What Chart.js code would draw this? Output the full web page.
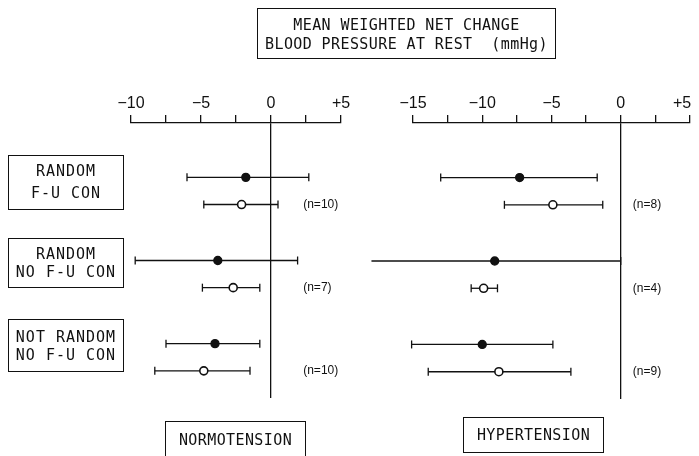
<!DOCTYPE html>
<html>
<head>
<meta charset="utf-8">
<script src="https://cdn.jsdelivr.net/npm/chart.js@4/dist/chart.umd.min.js"></script>
<style>
  body { margin: 0; background: #fff; }
  #wrap { position: relative; width: 699px; height: 456px; overflow: hidden; background: #fff; }
  canvas { position: absolute; left: 0; top: 0; }
  .box {
    position: absolute; border: 1.3px solid #111; box-sizing: border-box;
    font-family: "DejaVu Sans Mono", monospace; font-size: 15px; color: #111;
    display: flex; flex-direction: column; justify-content: center; align-items: center;
    white-space: pre; letter-spacing: 0.4px;
  }
</style>
</head>
<body>
<div id="wrap">
  <canvas id="normo" width="699" height="456"></canvas>
  <canvas id="hyper" width="699" height="456"></canvas>

  <div class="box" style="left:257px;top:8px;width:299px;height:51px;line-height:19px;padding-top:2px">
    <div>MEAN WEIGHTED NET CHANGE</div><div>BLOOD PRESSURE AT REST  (mmHg)</div>
  </div>

  <div class="box" style="left:8px;top:155px;width:116px;height:55px;line-height:21.5px;letter-spacing:1px">
    <div>RANDOM</div><div>F-U CON</div>
  </div>
  <div class="box" style="left:8px;top:238px;width:116px;height:50px;line-height:18px;letter-spacing:1px">
    <div>RANDOM</div><div>NO F-U CON</div>
  </div>
  <div class="box" style="left:8px;top:319px;width:116px;height:53px;line-height:18px;letter-spacing:1px">
    <div>NOT RANDOM</div><div>NO F-U CON</div>
  </div>

  <div class="box" style="left:165px;top:421px;width:141px;height:40px;padding-bottom:2px">
    <div>NORMOTENSION</div>
  </div>
  <div class="box" style="left:463px;top:417px;width:141px;height:36px">
    <div>HYPERTENSION</div>
  </div>
</div>

<script>
// groups (rows) - one pair of estimates per group
const groups = ['RANDOM F-U CON', 'RANDOM NO F-U CON', 'NOT RANDOM NO F-U CON'];

// normotension - filled circles
const normoSysMean = [-1.8, -3.8, -4.0];
const normoSysLow  = [-6.0, -9.7, -7.5];
const normoSysHigh = [2.7, 1.9, -0.8];
// normotension - open circles
const normoDiaMean = [-2.1, -2.7, -4.8];
const normoDiaLow  = [-4.8, -4.9, -8.3];
const normoDiaHigh = [0.5, -0.8, -1.5];
const normoN = [10, 7, 10];

// hypertension - filled circles
const hyperSysMean = [-7.3, -9.1, -10.0];
const hyperSysLow  = [-13.0, -18.0, -15.1];
const hyperSysHigh = [-1.7, 0.0, -4.9];
// hypertension - open circles
const hyperDiaMean = [-4.9, -9.9, -8.8];
const hyperDiaLow  = [-8.4, -10.8, -13.9];
const hyperDiaHigh = [-1.3, -8.9, -3.6];
const hyperN = [8, 4, 9];

// vertical position of a row: group index + which estimate (0 filled, 1 open)
const rowPos = (g, s) => g * 3.06 + s;

const fmtTick = v => {
    if (v % 5 !== 0) return '';
    if (v > 0) return '+' + v;
    if (v < 0) return '\u2212' + Math.abs(v);
    return '0';
};

// (n=..) labels next to the open-circle rows
const nLabels = {
    id: 'nLabels',
    afterDatasetsDraw(chart, args, opts) {
        const ctx = chart.ctx;
        const xs = chart.scales.x, ys = chart.scales.y;
        ctx.save();
        ctx.fillStyle = '#111';
        ctx.font = '12px "Liberation Sans", Arial, sans-serif';
        ctx.textAlign = 'left';
        ctx.textBaseline = 'middle';
        opts.counts.forEach((n, g) => {
            ctx.fillText('(n=' + n + ')', xs.getPixelForValue(opts.at), ys.getPixelForValue(rowPos(g, 1)));
        });
        ctx.restore();
    }
};

function buildDatasets(sysMean, sysLow, sysHigh, diaMean, diaLow, diaHigh) {
    const sets = [];
    sets.push({
        data: sysMean.map((v, g) => ({ x: v, y: rowPos(g, 0) })),
        pointRadius: 4, pointBackgroundColor: '#111', pointBorderColor: '#111', pointBorderWidth: 1.3,
        order: 0
    });
    sets.push({
        data: diaMean.map((v, g) => ({ x: v, y: rowPos(g, 1) })),
        pointRadius: 4, pointBackgroundColor: '#fff', pointBorderColor: '#111', pointBorderWidth: 1.6,
        order: 0
    });
    const bar = (lo, hi, y) => ({
        data: [{ x: lo, y: y }, { x: hi, y: y }],
        showLine: true, borderColor: '#111', borderWidth: 1.3,
        pointStyle: 'line', rotation: 90, pointRadius: 4, pointBorderWidth: 1.3,
        pointBorderColor: '#111', order: 1
    });
    groups.forEach((name, g) => {
        sets.push(bar(sysLow[g], sysHigh[g], rowPos(g, 0)));
        sets.push(bar(diaLow[g], diaHigh[g], rowPos(g, 1)));
    });
    return sets;
}

function makePanel(id, datasets, xmin, xmax, pad, counts, nAt, lastShift) {
    return new Chart(document.getElementById(id).getContext('2d'), {
        type: 'scatter',
        data: { datasets: datasets },
        plugins: [nLabels],
        options: {
            responsive: false,
            animation: false,
            devicePixelRatio: 1,
            clip: false,
            layout: { padding: pad },
            plugins: {
                legend: { display: false },
                tooltip: { enabled: false },
                nLabels: { counts: counts, at: nAt }
            },
            scales: {
                x: {
                    type: 'linear',
                    position: 'top',
                    min: xmin, max: xmax,
                    afterFit: s => { s.height = 40; s.paddingLeft = 0; s.paddingRight = 0; },
                    border: { display: true, color: '#111', width: 1.3 },
                    grid: {
                        drawOnChartArea: true,
                        color: c => (c.tick && c.tick.value === 0) ? '#111' : 'rgba(0,0,0,0)',
                        lineWidth: 1.3,
                        tickColor: '#111',
                        tickLength: 8,
                        tickWidth: 1.3
                    },
                    ticks: {
                        stepSize: 2.5,
                        autoSkip: false,
                        maxRotation: 0,
                        padding: 2,
                        color: '#111',
                        font: { family: '"Liberation Sans", Arial, sans-serif', size: 16 },
                        // last label of the right panel sits a little left of its tick
                        callback: v => (lastShift && v === xmax) ? fmtTick(v) + '\u2003' : fmtTick(v)
                    }
                },
                y: {
                    type: 'linear',
                    display: false,
                    reverse: true,
                    min: -2, max: 8.12
                }
            }
        }
    });
}

makePanel('normo',
    buildDatasets(normoSysMean, normoSysLow, normoSysHigh, normoDiaMean, normoDiaLow, normoDiaHigh),
    -10, 5, { left: 131, right: 358, top: 83, bottom: 58 }, normoN, 2.3, false);

makePanel('hyper',
    buildDatasets(hyperSysMean, hyperSysLow, hyperSysHigh, hyperDiaMean, hyperDiaLow, hyperDiaHigh),
    -15, 5, { left: 413, right: 9, top: 83, bottom: 57 }, hyperN, 0.87, true);
</script>
</body>
</html>
